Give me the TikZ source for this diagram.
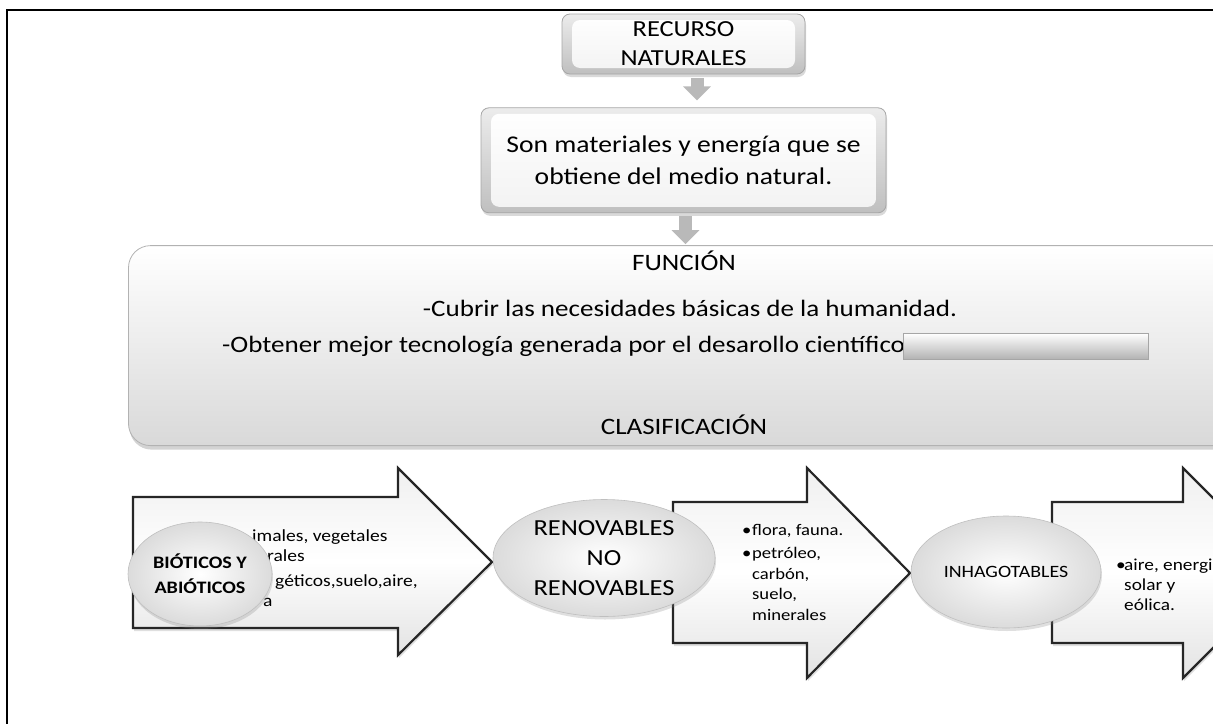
\documentclass[tikz,border=0pt]{standalone}
\usepackage{fontspec}
\setmainfont{Carlito}
\newfontfamily\widefont{Carlito}[FakeStretch=1.15]
\usetikzlibrary{positioning,shapes.geometric,shadows,arrows.meta}

\begin{document}
\begin{tikzpicture}[x=1pt, y=-1pt,
    box/.style={rectangle, rounded corners=8pt, draw=gray!70, line width=0.8pt,
      top color=gray!15, bottom color=gray!50, align=center,
      drop shadow={shadow xshift=1pt, shadow yshift=-3pt, opacity=0.3},
      path picture={\shade[top color=white, bottom color=gray!10]
        ([xshift=10pt, yshift=-6pt]path picture bounding box.north west) rectangle
        ([xshift=-10pt, yshift=6pt]path picture bounding box.south east);}},
    panel/.style={rectangle, rounded corners=22pt, draw=gray!60, line width=0.8pt,
      top color=white, bottom color=gray!30, minimum width=1110pt, minimum height=200pt,
      drop shadow={shadow xshift=1pt, shadow yshift=-4pt, opacity=0.35}},
    ptext/.style={font=\widefont\fontsize{23.5}{28}\selectfont},
    oval/.style={ellipse, draw=gray!50, line width=0.6pt, inner color=white, outer color=gray!28,
      align=center, drop shadow={shadow xshift=1pt, shadow yshift=-3pt, opacity=0.25}},
    bigarrow/.style={draw=black!85, line width=2.2pt, line join=miter,
      top color=gray!12, bottom color=gray!22, middle color=white,
      drop shadow={shadow xshift=1pt, shadow yshift=-3pt, opacity=0.25}},
    downarrow/.style={draw=gray!55, line width=13pt, -{Triangle[width=27pt, length=14pt]}},
    list/.style={align=left, anchor=north west, font=\widefont\fontsize{16.2}{20.5}\selectfont}]
  \tikzstyle{every node}=[inner sep=0pt]

  \useasboundingbox (0,0) rectangle (1213,723);
  \clip (0,0) rectangle (1213,723);
  \draw[line width=2.5pt] (7,10) rectangle (1240,750);

  % top boxes
  \node[box, minimum width=243pt, minimum height=60pt, font=\widefont\fontsize{23}{29}\selectfont] (rec) at (683.5,44) {RECURSO\\NATURALES};
  \node[box, minimum width=405pt, minimum height=105pt, below=33pt of rec, font=\widefont\fontsize{24}{32}\selectfont] (def) {Son materiales y energía que se\\obtiene del medio natural.};
  \node[panel, below=32pt of def] (fun) {};

  \draw[downarrow, shorten <=4pt, shorten >=7pt] ([xshift=13.5pt]rec.south) -- ([xshift=13.5pt]def.north);
  \draw[downarrow, shorten <=3pt, shorten >=1pt] ([xshift=2pt]def.south) -- ([xshift=2pt]fun.north);

  \node[ptext, anchor=base] (funtit) at (684,270) {FUNCIÓN};
  \node[ptext, anchor=base] (cub) at (690,316) {-Cubrir las necesidades básicas de la humanidad.};
  \node[ptext, anchor=base west] (obt) at (222,352) {-Obtener mejor tecnología generada por el desarollo científico};
  \node[ptext, anchor=base] (cla) at (684,434) {CLASIFICACIÓN};
  \node[anchor=north west, minimum width=245pt, minimum height=26pt, top color=white, bottom color=gray!60, draw=gray!70, line width=0.5pt] (blk) at (903,333) {};

  % clasificacion
  \draw[bigarrow] (133,497) -- (398,497) -- (398,468) -- (492,562) -- (398,655) -- (398,628) -- (133,628) -- cycle;
  \draw[bigarrow] (673,502) -- (807,502) -- (807,468) -- (910,573) -- (807,678) -- (807,643) -- (673,643) -- cycle;
  \draw[bigarrow] (1052,502) -- (1183,502) -- (1183,468) -- (1288,573) -- (1183,678) -- (1183,643) -- (1052,643) -- cycle;

  \node[list, font=\widefont\fontsize{17}{20}\selectfont] (bioinfo) at (252,529) {imales, vegetales\\\hspace*{15pt}rales\\[5pt]\hspace*{23pt}géticos,suelo,aire,\\\hspace*{11pt}a};
  \node[list] (renlist) at (742,524) {\makebox[10pt][l]{\textbullet}flora, fauna.\\[3pt]\makebox[10pt][l]{\textbullet}petróleo,\\\hspace*{10pt}carbón,\\\hspace*{10pt}suelo,\\\hspace*{10pt}minerales};
  \node[list, font=\widefont\fontsize{16.8}{20}\selectfont] (inhlist) at (1116,559) {\makebox[8pt][l]{\textbullet}aire, energi\\\hspace*{8pt}solar y\\\hspace*{8pt}eólica.};

  \node[oval, minimum width=144pt, minimum height=104pt, font=\widefont\bfseries\fontsize{17.5}{25}\selectfont] (bio) at (200,574) {BIÓTICOS Y\\ABIÓTICOS};
  \node[oval, minimum width=222pt, minimum height=117pt, font=\widefont\fontsize{23}{30}\selectfont] (ren) at (604,558) {RENOVABLES\\NO\\RENOVABLES};
  \node[oval, minimum width=190pt, minimum height=112pt, font=\widefont\fontsize{17.3}{20}\selectfont] (inh) at (1006,572) {INHAGOTABLES};
\end{tikzpicture}
\end{document}
